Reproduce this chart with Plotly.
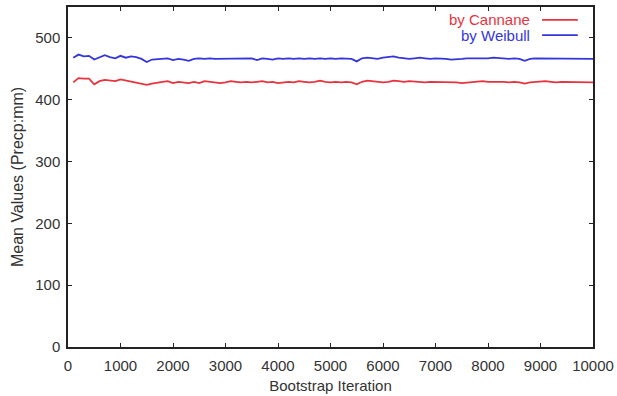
import plotly.graph_objects as go

iterations = list(range(100, 10001, 100))

cannane = [
    428, 435, 434, 434, 425, 430, 432, 431, 430, 433,
    431, 429, 428, 426, 424, 426, 428, 429, 430, 427,
    429, 428, 427, 429, 427, 430, 429, 428, 427, 428,
    430, 429, 428, 429, 428, 429, 430, 428, 429, 427,
    428, 429, 428, 430, 429, 428, 429, 431, 429, 428,
    429, 428, 429, 428, 425, 429, 431, 430, 429, 428,
    429, 431, 430, 429, 430, 429, 429, 428, 429, 429,
    428, 429, 429, 428, 427, 428, 429, 429, 430, 429,
    429, 430, 429, 428, 429, 428, 426, 428, 429, 429,
    430, 429, 428, 429, 429, 428, 429, 428, 429, 428,
]

weibull = [
    468, 473, 470, 471, 465, 468, 472, 469, 467, 471,
    468, 470, 469, 466, 461, 465, 466, 466, 467, 464,
    466, 465, 463, 466, 467, 466, 467, 466, 466, 467,
    467, 466, 467, 466, 467, 464, 467, 466, 465, 467,
    466, 467, 466, 467, 466, 467, 466, 467, 466, 467,
    466, 467, 466, 466, 462, 467, 468, 467, 466, 468,
    469, 470, 468, 467, 466, 467, 468, 467, 466, 467,
    467, 466, 465, 465, 466, 467, 467, 466, 467, 467,
    468, 467, 467, 466, 467, 466, 463, 466, 467, 467,
    466, 466, 467, 466, 467, 467, 466, 467, 467, 466,
]

x_ticks = list(range(0, 10001, 1000))
x_tick_labels = [str(v) for v in x_ticks]
y_ticks = list(range(0, 501, 100))
y_tick_labels = [str(v) for v in y_ticks]

red = "#e8333f"
blue = "#3535dd"

fig = go.Figure()
fig.add_trace(go.Scatter(x=iterations, y=cannane, mode="lines",
                         line=dict(color=red, width=1.8), name="by Cannane",
                         showlegend=False))
fig.add_trace(go.Scatter(x=iterations, y=weibull, mode="lines",
                         line=dict(color=blue, width=1.8), name="by Weibull",
                         showlegend=False))

font_family = "Liberation Sans, Arial, sans-serif"

# gnuplot-style key: text right-aligned, sample line to its right
legend_items = [("by Cannane", red, 0.962), ("by Weibull", blue, 0.917)]
for text, color, yy in legend_items:
    fig.add_annotation(x=0.884, y=yy, xref="paper", yref="paper", text=text,
                       showarrow=False, xanchor="right", yanchor="middle",
                       font=dict(family=font_family, size=15, color=color))
    fig.add_shape(type="line", xref="paper", yref="paper",
                  x0=0.903, x1=0.971, y0=yy, y1=yy,
                  line=dict(color=color, width=1.8))

axis_common = dict(
    showline=True, linecolor="#222", linewidth=1.5, mirror="ticks",
    ticks="inside", ticklen=4, tickcolor="#222", tickwidth=1.2,
    showgrid=False, zeroline=False, automargin=False,
    tickfont=dict(family=font_family, size=15, color="#333"),
)

fig.update_layout(
    width=617, height=396,
    margin=dict(l=68, r=24, t=7, b=49),
    plot_bgcolor="white", paper_bgcolor="white",
    xaxis=dict(range=[0, 10000], tickvals=x_ticks, ticktext=x_tick_labels,
               ticklabelstandoff=4,
               title=dict(text="Bootstrap Iteration", standoff=8,
                          font=dict(family=font_family, size=15, color="#333")),
               **axis_common),
    yaxis=dict(range=[0, 550], tickvals=y_ticks, ticktext=y_tick_labels,
               ticklabelstandoff=3,
               title=dict(text="Mean Values (Precp:mm)", standoff=8,
                          font=dict(family=font_family, size=16, color="#333")),
               **axis_common),
)

fig.write_html("out.html")
